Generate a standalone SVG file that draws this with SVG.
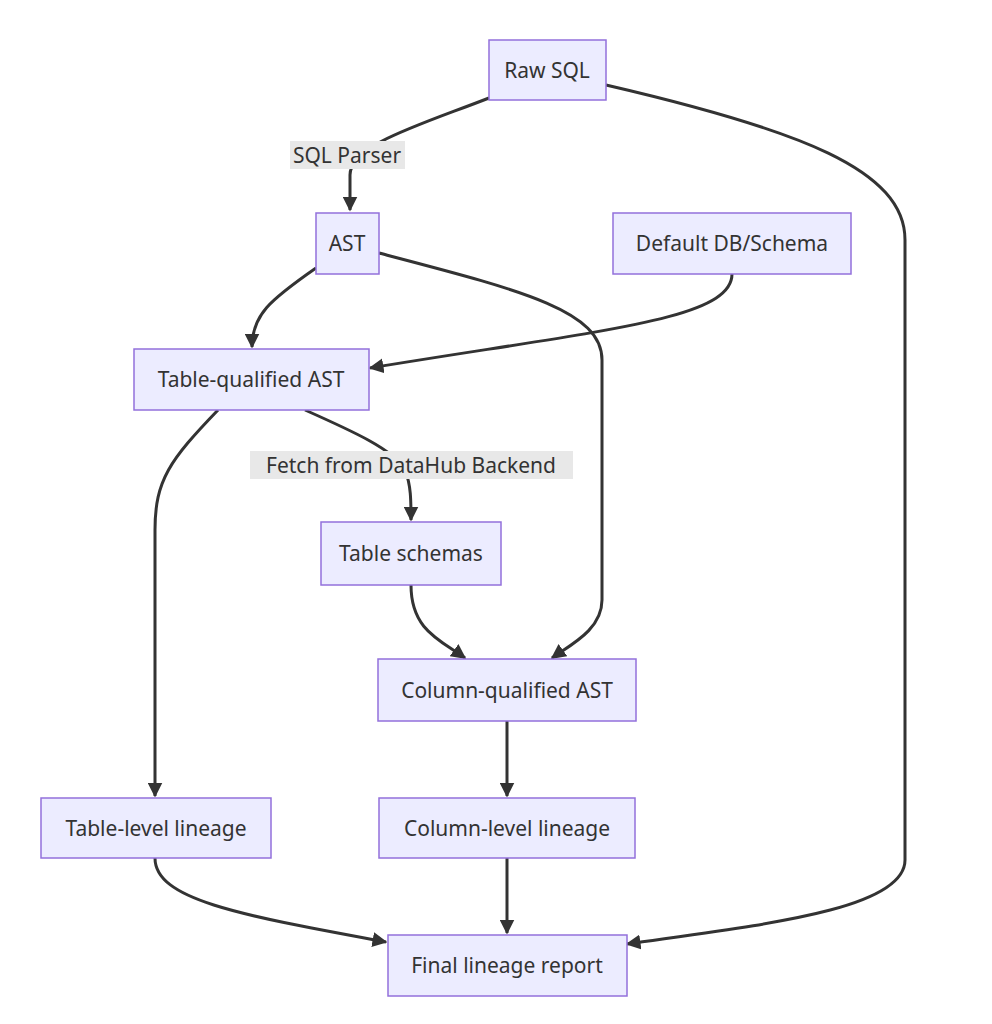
<svg xmlns="http://www.w3.org/2000/svg" width="992" height="1024" viewBox="0 0 992 1024">
<style>
.n rect{fill:#ECECFF;stroke:#9370DB;stroke-width:1.5}
text{font-family:"Noto Sans","DejaVu Sans",sans-serif;font-size:21px;fill:#333;text-anchor:middle;dominant-baseline:central}
.e path{fill:none;stroke:#333;stroke-width:3}
.lb{fill:#e8e8e8}
</style>
<defs><marker id="a" viewBox="0 0 10 10" refX="9" refY="5" markerWidth="5" markerHeight="5" orient="auto" markerUnits="strokeWidth"><path d="M0,0L10,5L0,10z" fill="#333"/></marker></defs>
<rect width="992" height="1024" fill="#fff"/>
<g class="e">
<path d="M489,98 C420,125 350,145 350,175 L350,210" marker-end="url(#a)"/>
<path d="M606,85 C800,130 905,170 905,240 L905,860 C905,910 760,925 627,944" marker-end="url(#a)"/>
<path d="M316,268 C270,300 252,315 252,347" marker-end="url(#a)"/>
<path d="M379,253 C520,290 602,310 602,360 L602,600 C602,630 570,645 552,658" marker-end="url(#a)"/>
<path d="M732,274 C732,320 600,330 370,368" marker-end="url(#a)"/>
<path d="M305,410 C350,430 395,450 405,470 C411,485 411,500 411,520" marker-end="url(#a)"/>
<path d="M218,410 C170,460 155,480 155,530 L155,796" marker-end="url(#a)"/>
<path d="M411,585 C411,630 440,640 465,658" marker-end="url(#a)"/>
<path d="M507,721 L507,796" marker-end="url(#a)"/>
<path d="M155,858 C155,900 240,915 386,942" marker-end="url(#a)"/>
<path d="M507,858 L507,933" marker-end="url(#a)"/>
</g>
<g id="lbl1"><rect class="lb" x="290" y="141" width="115" height="28"/><text x="347" y="155">SQL Parser</text></g>
<g id="lbl2"><rect class="lb" x="250" y="451" width="323" height="28"/><text x="411" y="465">Fetch from DataHub Backend</text></g>
<g id="raw" class="n"><rect x="489" y="40" width="117" height="60"/><text x="547" y="70">Raw SQL</text></g>
<g id="ast" class="n"><rect x="316" y="213" width="63" height="61"/><text x="347" y="243">AST</text></g>
<g id="def" class="n"><rect x="613" y="213" width="238" height="61"/><text x="732" y="243">Default DB/Schema</text></g>
<g id="tq" class="n"><rect x="134" y="349" width="235" height="61"/><text x="251" y="379">Table-qualified AST</text></g>
<g id="ts" class="n"><rect x="321" y="522" width="180" height="63"/><text x="411" y="553">Table schemas</text></g>
<g id="cq" class="n"><rect x="378" y="659" width="258" height="62"/><text x="507" y="690">Column-qualified AST</text></g>
<g id="tl" class="n"><rect x="41" y="798" width="230" height="60"/><text x="156" y="828">Table-level lineage</text></g>
<g id="cl" class="n"><rect x="379" y="798" width="256" height="60"/><text x="507" y="828">Column-level lineage</text></g>
<g id="fin" class="n"><rect x="388" y="935" width="239" height="61"/><text x="507" y="965">Final lineage report</text></g>
</svg>
